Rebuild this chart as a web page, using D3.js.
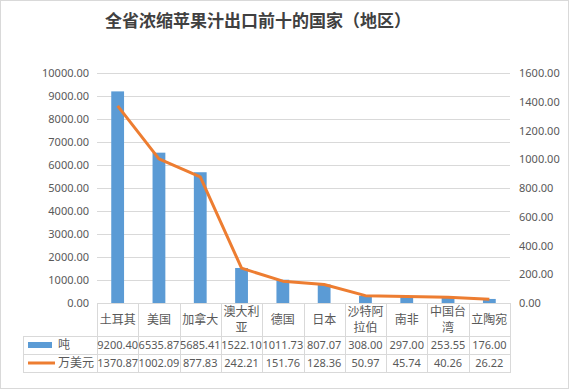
<!DOCTYPE html>
<html>
<head>
<meta charset="utf-8" />
<script src="https://cdn.jsdelivr.net/npm/d3@7"></script>
<style>
  body { margin: 0; background: #fff; }
  svg text { font-family: "Noto Sans", "Noto Sans CJK SC", sans-serif; fill: #595959; }
  .cjk { font-family: "Noto Sans CJK SC", sans-serif; }
</style>
</head>
<body>
<svg id="chart"></svg>
<script>
const countries = ["土耳其", "美国", "加拿大", "澳大利亚", "德国", "日本", "沙特阿拉伯", "南非", "中国台湾", "立陶宛"]
const tons = [9200.40, 6535.87, 5685.41, 1522.10, 1011.73, 807.07, 308.00, 297.00, 253.55, 176.00]
const usd = [1370.87, 1002.09, 877.83, 242.21, 151.76, 128.36, 50.97, 45.74, 40.26, 26.22]
const leftTicks = [0, 1000, 2000, 3000, 4000, 5000, 6000, 7000, 8000, 9000, 10000]
const rightTicks = [0, 200, 400, 600, 800, 1000, 1200, 1400, 1600]
const seriesNames = ["吨", "万美元"]

const width = 569, height = 389
const plot = {left: 97, right: 510, top: 73, bottom: 303}
const tableLeft = 23
const rows = [303, 336, 354, 372]
const blue = "#5b9bd5", orange = "#ed7d31", grid = "#d9d9d9"

const svg = d3.select("#chart").attr("width", width).attr("height", height)

svg.append("rect")
  .attr("x", 0.5).attr("y", 0.5)
  .attr("width", width - 1).attr("height", height - 1)
  .attr("fill", "#fff").attr("stroke", grid)

svg.append("text")
  .attr("class", "cjk")
  .attr("x", 258).attr("y", 27)
  .attr("text-anchor", "middle")
  .style("font-size", "17px").style("font-weight", "bold")
  .style("fill", "#404040")
  .text("全省浓缩苹果汁出口前十的国家（地区）")

const x = d3.scaleBand().domain(countries).range([plot.left, plot.right])
const y = d3.scaleLinear().domain([0, 10000]).range([plot.bottom, plot.top])
const y2 = d3.scaleLinear().domain([0, 1600]).range([plot.bottom, plot.top])

// gridlines
svg.append("g")
  .selectAll("line")
  .data(leftTicks)
  .join("line")
    .attr("x1", plot.left).attr("x2", plot.right)
    .attr("y1", d => Math.round(y(d)) + 0.5).attr("y2", d => Math.round(y(d)) + 0.5)
    .attr("stroke", grid)

const yAxis = g => g
  .attr("transform", `translate(${plot.left - 8},0)`)
  .call(d3.axisLeft(y).tickValues(leftTicks).tickFormat(d3.format(".2f")).tickSize(0))
  .call(g => g.select(".domain").remove())
  .call(g => g.selectAll("text").attr("x", 0).style("font-size", "11px").style("fill", "#595959"))

const y2Axis = g => g
  .attr("transform", `translate(${plot.right + 9},0)`)
  .call(d3.axisRight(y2).tickValues(rightTicks).tickFormat(d3.format(".2f")).tickSize(0))
  .call(g => g.select(".domain").remove())
  .call(g => g.selectAll("text").attr("x", 0).style("font-size", "11px").style("fill", "#595959"))

svg.append("g").call(yAxis).attr("font-family", null)
svg.append("g").call(y2Axis).attr("font-family", null)

// bars
const barW = x.bandwidth() * 0.31
svg.append("g")
  .selectAll("rect")
  .data(tons)
  .join("rect")
    .attr("x", (d, i) => x(countries[i]) + x.bandwidth() / 2 - barW / 2)
    .attr("y", d => y(d))
    .attr("width", barW)
    .attr("height", d => y(0) - y(d))
    .attr("fill", blue)

// line
const line = d3.line()
  .x((d, i) => x(countries[i]) + x.bandwidth() / 2)
  .y(d => y2(d))

svg.append("path")
  .datum(usd)
  .attr("d", line)
  .attr("fill", "none")
  .attr("stroke", orange)
  .attr("stroke-width", 3)
  .attr("stroke-linejoin", "round")

// data table
const table = svg.append("g").attr("stroke", grid).attr("shape-rendering", "crispEdges")
table.append("line")
  .attr("x1", plot.left).attr("x2", plot.right)
  .attr("y1", rows[0] + 0.5).attr("y2", rows[0] + 0.5)
rows.slice(1).forEach(r => {
  table.append("line")
    .attr("x1", tableLeft).attr("x2", plot.right)
    .attr("y1", r + 0.5).attr("y2", r + 0.5)
})
table.append("line")
  .attr("x1", tableLeft + 0.5).attr("x2", tableLeft + 0.5)
  .attr("y1", rows[1]).attr("y2", rows[3] + 1)
x.domain().concat([null]).forEach((c, i) => {
  const xx = c === null ? plot.right : x(c)
  table.append("line")
    .attr("x1", Math.round(xx) + 0.5).attr("x2", Math.round(xx) + 0.5)
    .attr("y1", rows[0]).attr("y2", rows[3] + 1)
})

// header labels (wrap after 3 characters)
const header = svg.append("g")
countries.forEach(c => {
  const parts = c.length > 3 ? [c.slice(0, 3), c.slice(3)] : [c]
  const cx = x(c) + x.bandwidth() / 2
  const mid = (rows[0] + rows[1]) / 2
  parts.forEach((p, j) => {
    header.append("text")
      .attr("class", "cjk")
      .attr("x", cx)
      .attr("y", mid + (j - (parts.length - 1) / 2) * 16)
      .attr("dy", "0.36em")
      .attr("text-anchor", "middle")
      .style("font-size", "12px")
      .text(p)
  })
})

const fmt = d3.format(".2f")
;[tons, usd].forEach((vals, r) => {
  const cy = (rows[r + 1] + rows[r + 2]) / 2
  svg.append("g")
    .selectAll("text")
    .data(vals)
    .join("text")
      .attr("x", (d, i) => x(countries[i]) + x.bandwidth() / 2)
      .attr("y", cy)
      .attr("dy", "0.36em")
      .attr("text-anchor", "middle")
      .style("font-size", "11px")
      .text(d => fmt(d))
})

// legend keys inside the table
const cy1 = (rows[1] + rows[2]) / 2, cy2 = (rows[2] + rows[3]) / 2
svg.append("rect")
  .attr("x", 28).attr("y", cy1 - 3).attr("width", 24).attr("height", 6)
  .attr("fill", blue)
svg.append("line")
  .attr("x1", 28).attr("x2", 55).attr("y1", cy2).attr("y2", cy2)
  .attr("stroke", orange).attr("stroke-width", 3)
svg.append("text").attr("class", "cjk")
  .attr("x", 58).attr("y", cy1).attr("dy", "0.36em")
  .style("font-size", "12px").text(seriesNames[0])
svg.append("text").attr("class", "cjk")
  .attr("x", 58).attr("y", cy2).attr("dy", "0.36em")
  .style("font-size", "12px").text(seriesNames[1])
</script>
</body>
</html>
